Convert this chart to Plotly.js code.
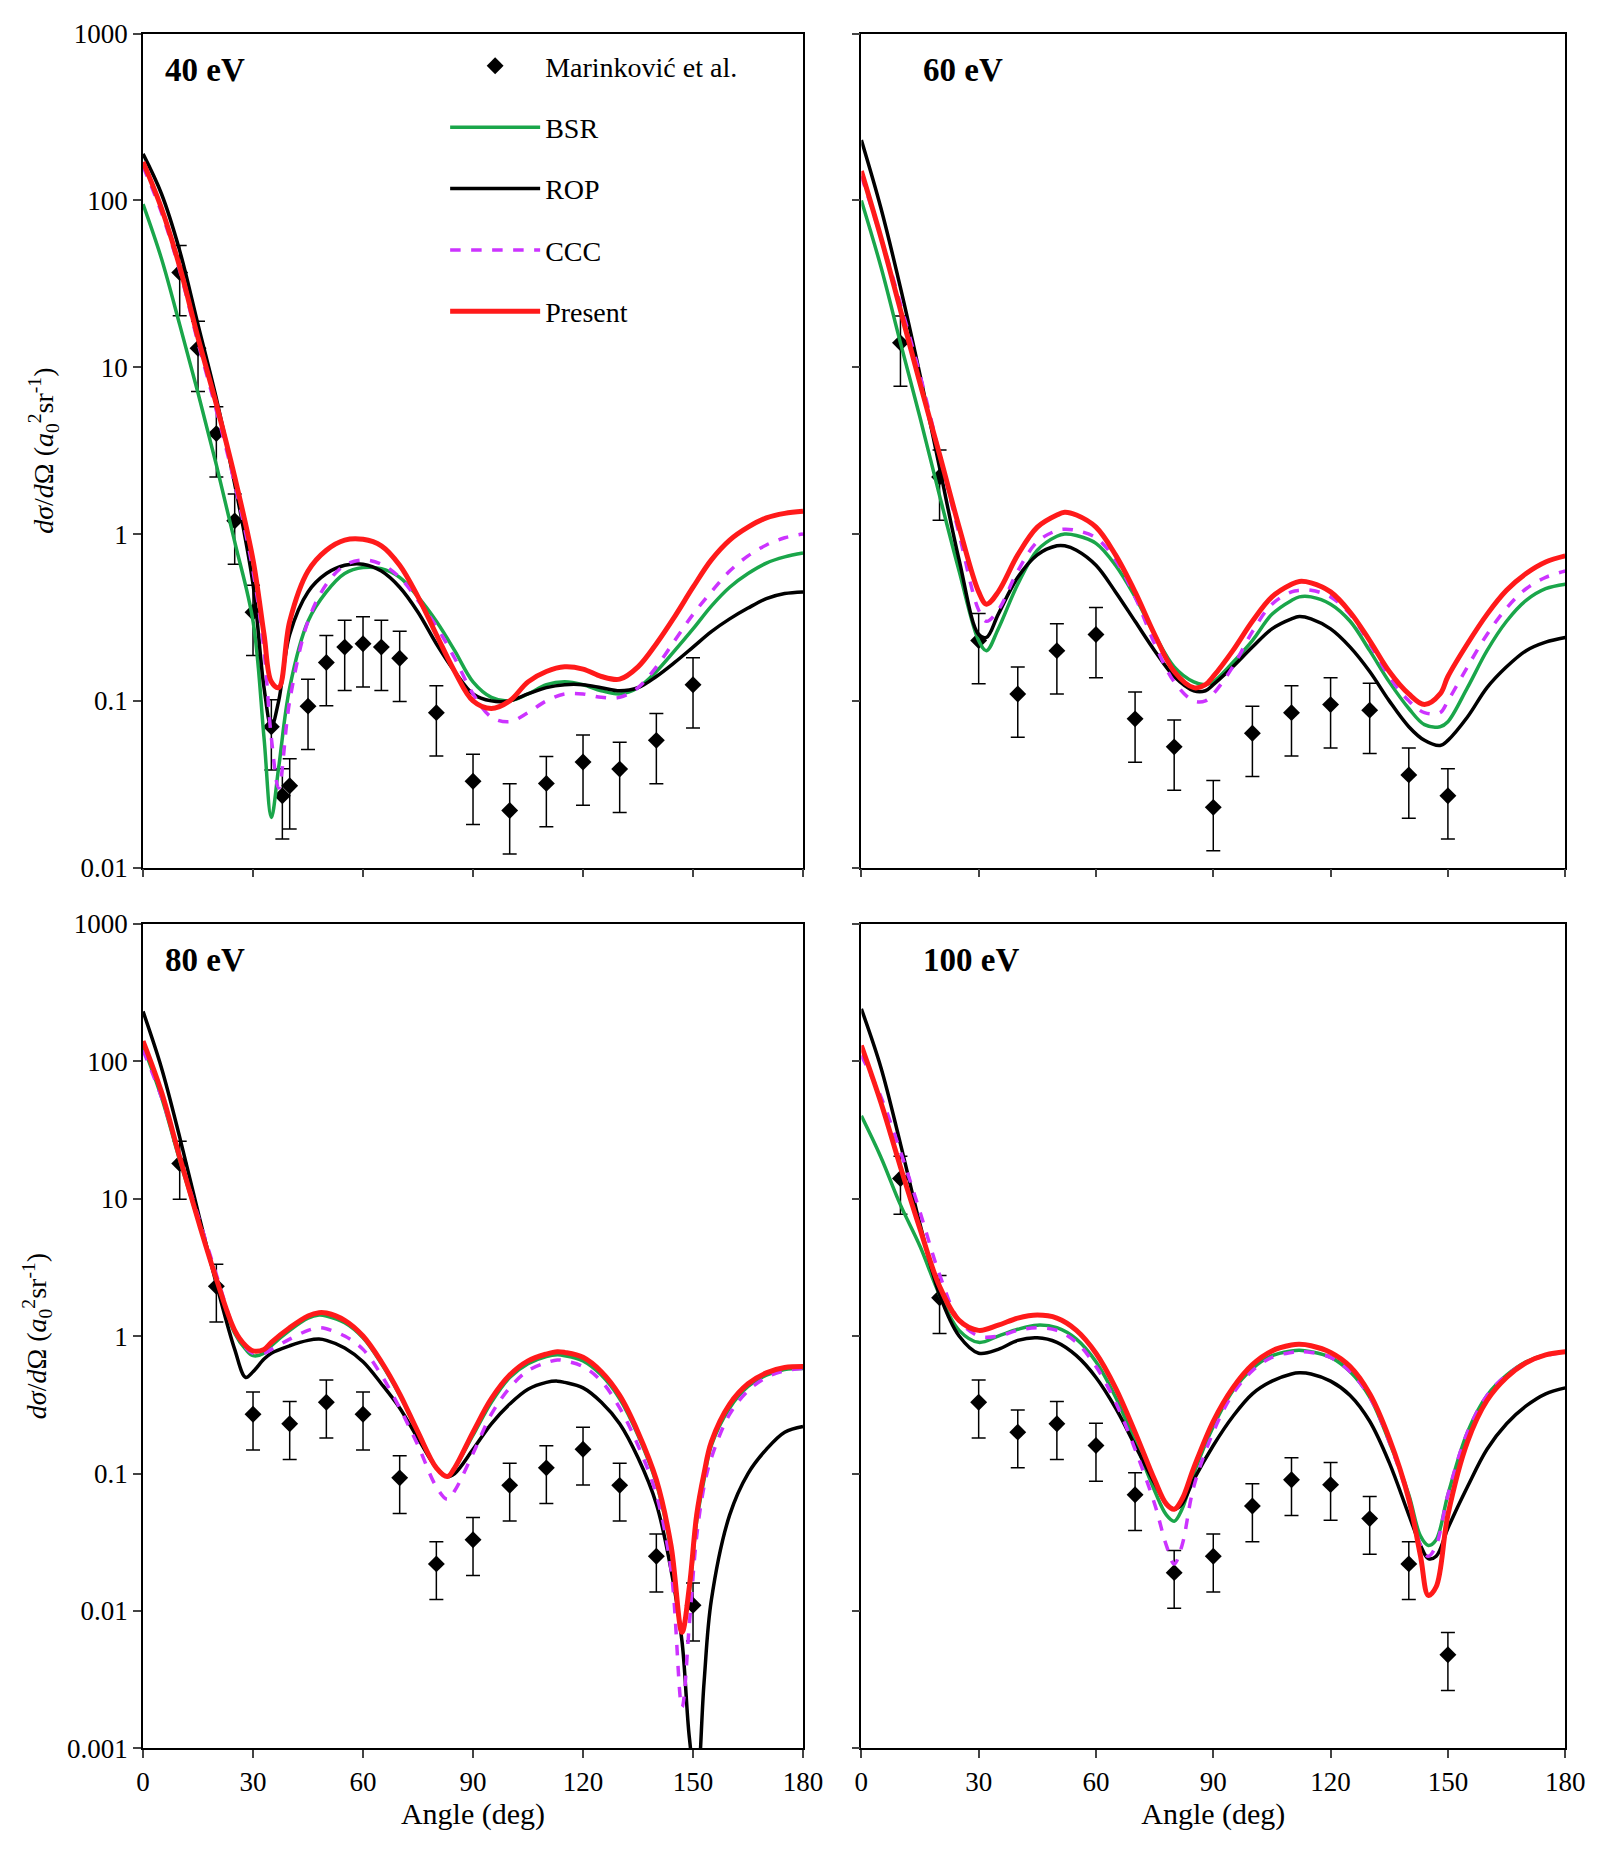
<!DOCTYPE html>
<html>
<head>
<meta charset="utf-8">
<script src="https://cdn.plot.ly/plotly-3.0.1.min.js"></script>
<style>body{margin:0;background:#fff}#plot{width:1607px;height:1866px}</style>
</head>
<body>
<div id="plot"></div>
<script>
// 40 eV
const ang40 = [0,5,10,15,20,25,30,33,35,37,40,45,50,55,60,65,70,75,80,85,90,95,100,105,110,115,120,125,130,135,140,145,150,155,160,165,170,175,180];
const present40 = [170,90,40,15,6,2.2,0.7,0.25,0.13,0.12,0.3,0.6,0.8,0.92,0.93,0.85,0.65,0.42,0.25,0.15,0.1,0.09,0.1,0.13,0.15,0.16,0.155,0.14,0.135,0.16,0.22,0.32,0.48,0.7,0.92,1.1,1.25,1.33,1.37];
const rop40 = [190,110,50,18,6.5,2,0.5,0.12,0.07,0.1,0.25,0.45,0.58,0.65,0.66,0.6,0.48,0.34,0.22,0.15,0.11,0.1,0.1,0.11,0.12,0.125,0.125,0.12,0.115,0.12,0.14,0.17,0.21,0.26,0.31,0.36,0.41,0.44,0.45];
const bsr40 = [95,45,18,7,2.6,0.9,0.3,0.06,0.02,0.04,0.12,0.3,0.45,0.58,0.63,0.62,0.55,0.42,0.3,0.2,0.13,0.105,0.1,0.11,0.125,0.13,0.125,0.115,0.11,0.12,0.15,0.2,0.27,0.37,0.48,0.58,0.67,0.73,0.77];
const ccc40 = [160,85,38,14,5.5,2,0.6,0.2,0.06,0.03,0.1,0.3,0.5,0.65,0.7,0.66,0.55,0.4,0.28,0.18,0.11,0.08,0.075,0.085,0.1,0.11,0.11,0.105,0.105,0.12,0.16,0.23,0.33,0.45,0.6,0.74,0.86,0.95,1.0];
const expAng40 = [10,15,20,25,30,35,38,40,45,50,55,60,65,70,80,90,100,110,120,130,140,150];
const exp40 = [37,13,4,1.2,0.34,0.07,0.027,0.031,0.093,0.17,0.21,0.22,0.21,0.18,0.085,0.033,0.022,0.032,0.043,0.039,0.058,0.125];

// 60 eV
const ang60 = [0,5,10,15,20,25,30,32,35,40,45,50,52,55,60,65,70,75,80,85,88,90,95,100,105,110,112,115,120,125,130,135,140,144,148,150,155,160,165,170,175,180];
const present60 = [150,60,22,8,3,1.1,0.45,0.38,0.45,0.75,1.1,1.3,1.35,1.3,1.1,0.75,0.45,0.25,0.15,0.12,0.125,0.14,0.2,0.3,0.42,0.5,0.52,0.51,0.45,0.34,0.23,0.15,0.11,0.095,0.11,0.14,0.22,0.33,0.46,0.58,0.68,0.74];
const rop60 = [230,90,30,9,2.5,0.7,0.25,0.24,0.33,0.55,0.75,0.85,0.85,0.8,0.65,0.45,0.3,0.2,0.14,0.115,0.115,0.125,0.16,0.21,0.27,0.31,0.32,0.31,0.27,0.21,0.15,0.1,0.07,0.058,0.054,0.058,0.08,0.12,0.16,0.2,0.225,0.24];
const bsr60 = [100,40,14,5,1.7,0.6,0.23,0.2,0.27,0.5,0.8,0.97,1.0,0.98,0.88,0.65,0.42,0.25,0.16,0.13,0.125,0.13,0.17,0.23,0.33,0.4,0.42,0.42,0.38,0.3,0.2,0.13,0.09,0.072,0.07,0.075,0.12,0.2,0.3,0.4,0.47,0.5];
const ccc60 = [140,60,24,9,3,1.0,0.35,0.3,0.35,0.6,0.9,1.05,1.07,1.05,0.95,0.7,0.42,0.22,0.13,0.1,0.1,0.11,0.16,0.26,0.38,0.45,0.46,0.46,0.42,0.33,0.22,0.14,0.1,0.085,0.085,0.1,0.16,0.25,0.36,0.47,0.55,0.6];
const expAng60 = [10,20,30,40,50,60,70,80,90,100,110,120,130,140,150];
const exp60 = [14,2.2,0.23,0.11,0.2,0.25,0.078,0.053,0.023,0.064,0.085,0.095,0.088,0.036,0.027];

// 80 eV
const ang80 = [0,5,10,15,20,25,28,30,33,35,40,45,48,50,55,60,65,70,75,80,83,85,90,95,100,105,110,113,115,120,125,130,135,140,144,147,149,151,153,155,160,165,170,175,180];
const present80 = [140,60,20,7,2.6,1.1,0.85,0.78,0.8,0.9,1.15,1.4,1.48,1.47,1.3,1.0,0.65,0.38,0.2,0.11,0.095,0.11,0.2,0.35,0.52,0.66,0.74,0.77,0.76,0.7,0.55,0.37,0.2,0.09,0.03,0.007,0.015,0.05,0.1,0.17,0.32,0.45,0.54,0.59,0.6];
const rop80 = [230,90,28,8,2.4,0.8,0.5,0.55,0.68,0.75,0.85,0.93,0.95,0.93,0.82,0.65,0.45,0.3,0.18,0.11,0.095,0.1,0.15,0.23,0.32,0.41,0.46,0.47,0.46,0.42,0.33,0.23,0.13,0.06,0.02,0.006,0.0012,0.0005,0.003,0.012,0.05,0.1,0.15,0.2,0.22];
const bsr80 = [130,55,19,7,2.6,1.05,0.8,0.72,0.75,0.85,1.1,1.35,1.42,1.4,1.25,0.97,0.63,0.37,0.2,0.11,0.095,0.11,0.19,0.33,0.5,0.63,0.71,0.73,0.72,0.66,0.52,0.35,0.19,0.085,0.028,0.007,0.014,0.045,0.09,0.16,0.3,0.43,0.52,0.57,0.58];
const ccc80 = [120,55,20,7.5,2.8,1.1,0.82,0.75,0.75,0.8,0.95,1.1,1.15,1.13,1.0,0.8,0.52,0.3,0.16,0.08,0.065,0.075,0.14,0.27,0.42,0.56,0.64,0.67,0.66,0.6,0.47,0.3,0.16,0.07,0.02,0.002,0.008,0.035,0.08,0.13,0.27,0.4,0.5,0.56,0.58];
const expAng80 = [10,20,30,40,50,60,70,80,90,100,110,120,130,140,150];
const exp80 = [18,2.3,0.27,0.23,0.33,0.27,0.093,0.022,0.033,0.082,0.11,0.15,0.082,0.025,0.011];

// 100 eV
const ang100 = [0,5,10,15,20,25,30,35,40,45,50,55,60,65,70,75,78,80,82,85,90,95,100,105,110,112,115,120,125,130,135,140,143,145,147,150,155,160,165,170,175,180];
const present100 = [130,50,17,6,2.3,1.3,1.1,1.2,1.35,1.42,1.35,1.1,0.75,0.42,0.2,0.09,0.06,0.055,0.065,0.11,0.24,0.42,0.62,0.78,0.86,0.87,0.85,0.76,0.6,0.38,0.18,0.065,0.025,0.013,0.015,0.05,0.17,0.34,0.5,0.64,0.73,0.77];
const rop100 = [240,90,25,6.5,2,1.0,0.75,0.8,0.93,0.97,0.9,0.72,0.5,0.3,0.16,0.085,0.06,0.055,0.06,0.09,0.16,0.26,0.38,0.47,0.53,0.54,0.53,0.47,0.37,0.24,0.12,0.05,0.03,0.024,0.025,0.04,0.08,0.15,0.23,0.31,0.38,0.42];
const bsr100 = [40,20,9,4.5,2,1.1,0.9,1.0,1.12,1.2,1.15,0.95,0.65,0.36,0.17,0.075,0.05,0.045,0.055,0.1,0.22,0.4,0.58,0.72,0.78,0.79,0.77,0.7,0.55,0.36,0.17,0.07,0.035,0.03,0.033,0.07,0.2,0.37,0.52,0.65,0.73,0.77];
const ccc100 = [110,55,22,8,2.8,1.3,1.0,1.0,1.1,1.15,1.1,0.9,0.6,0.33,0.15,0.06,0.03,0.022,0.03,0.08,0.2,0.38,0.56,0.7,0.76,0.77,0.76,0.7,0.55,0.36,0.17,0.065,0.03,0.025,0.03,0.07,0.2,0.37,0.52,0.64,0.72,0.76];
const expAng100 = [10,20,30,40,50,60,70,80,90,100,110,120,130,140,150];
const exp100 = [14,1.9,0.33,0.2,0.23,0.16,0.07,0.019,0.025,0.058,0.09,0.083,0.047,0.022,0.0048];

const errFrac = 0.45;
const labels = ['40 eV','60 eV','80 eV','100 eV'];

const panels = [
  {ang: ang40, p: present40, r: rop40, b: bsr40, c: ccc40, ea: expAng40, e: exp40},
  {ang: ang60, p: present60, r: rop60, b: bsr60, c: ccc60, ea: expAng60, e: exp60},
  {ang: ang80, p: present80, r: rop80, b: bsr80, c: ccc80, ea: expAng80, e: exp80},
  {ang: ang100, p: present100, r: rop100, b: bsr100, c: ccc100, ea: expAng100, e: exp100}
];

const FONT = 'Liberation Serif, serif';
let traces = [];
panels.forEach((d, i) => {
  const xa = 'x' + (i ? i + 1 : ''), ya = 'y' + (i ? i + 1 : '');
  const leg = i === 0;
  traces.push({x: d.ea, y: d.e, xaxis: xa, yaxis: ya, mode: 'markers', type: 'scatter',
    marker: {symbol: 'diamond', size: 13, color: 'black'},
    error_y: {type: 'data', array: d.e.map(v => v * errFrac), arrayminus: d.e.map(v => v * errFrac), color: 'black', thickness: 1.5, width: 7},
    name: 'Marinković et al.', showlegend: leg, legendgroup: 'a', legendrank: 1});
  traces.push({x: d.ang, y: d.b, xaxis: xa, yaxis: ya, mode: 'lines', line: {color: '#1aa64a', width: 3.5, shape: 'spline'},
    name: 'BSR', showlegend: leg, legendgroup: 'b', legendrank: 2});
  traces.push({x: d.ang, y: d.r, xaxis: xa, yaxis: ya, mode: 'lines', line: {color: 'black', width: 3.5, shape: 'spline'},
    name: 'ROP', showlegend: leg, legendgroup: 'c', legendrank: 3});
  traces.push({x: d.ang, y: d.c, xaxis: xa, yaxis: ya, mode: 'lines', line: {color: '#cc33ff', width: 3.5, dash: 'dash', shape: 'spline'},
    name: 'CCC', showlegend: leg, legendgroup: 'd', legendrank: 4});
  traces.push({x: d.ang, y: d.p, xaxis: xa, yaxis: ya, mode: 'lines', line: {color: '#ff1a1a', width: 5, shape: 'spline'},
    name: 'Present', showlegend: leg, legendgroup: 'e', legendrank: 5});
});

const xd = [[0.089, 0.4997], [0.536, 0.974]];
const yd = [[0.535, 0.982], [0.063, 0.505]];
const topVals = [0.01, 0.1, 1, 10, 100, 1000];
const botVals = [0.001, 0.01, 0.1, 1, 10, 100, 1000];
const yTitle = '<i>dσ</i>/<i>d</i>Ω (<i>a</i><sub>0</sub><sup>2</sup>sr<sup>-1</sup>)';

let layout = {
  width: 1607, height: 1866, paper_bgcolor: 'white', plot_bgcolor: 'white',
  margin: {l: 0, r: 0, t: 0, b: 0},
  font: {family: FONT, size: 27, color: 'black'},
  showlegend: true,
  legend: {x: 0.277, y: 0.978, xanchor: 'left', yanchor: 'top', tracegroupgap: 22, itemwidth: 90,
    font: {family: FONT, size: 28}, bgcolor: 'rgba(0,0,0,0)'},
  annotations: []
};
for (let i = 0; i < 4; i++) {
  const col = i % 2, row = Math.floor(i / 2);
  const sfx = i ? i + 1 : '';
  const vals = row ? botVals : topVals;
  layout['xaxis' + sfx] = {domain: xd[col], range: [0, 180], anchor: 'y' + sfx,
    tickvals: [0, 30, 60, 90, 120, 150, 180], showticklabels: row === 1,
    ticks: 'outside', ticklen: 8, tickwidth: 1.5, showline: true, mirror: true, linewidth: 1.5, linecolor: 'black',
    showgrid: false, zeroline: false, tickfont: {size: 27},
    title: row ? {text: 'Angle (deg)', font: {size: 30}, standoff: 4} : undefined};
  layout['yaxis' + sfx] = {domain: yd[row], type: 'log', anchor: 'x' + sfx,
    range: [Math.log10(vals[0]), 3], tickvals: vals, ticktext: vals.map(String),
    showticklabels: col === 0, ticks: 'outside', ticklen: 8, tickwidth: 1.5,
    showline: true, mirror: true, linewidth: 1.5, linecolor: 'black', showgrid: false, zeroline: false,
    tickfont: {size: 27},
    title: col === 0 ? {text: yTitle, font: {size: 28}, standoff: 12} : undefined};
  layout.annotations.push({text: '<b>' + labels[i] + '</b>', xref: 'x' + sfx + ' domain', yref: 'y' + sfx + ' domain',
    x: col ? 0.085 : 0.03, y: 0.98, xanchor: 'left', yanchor: 'top', showarrow: false, font: {family: FONT, size: 33}});
}

Plotly.newPlot('plot', traces, layout, {displayModeBar: false});
</script>
</body>
</html>
